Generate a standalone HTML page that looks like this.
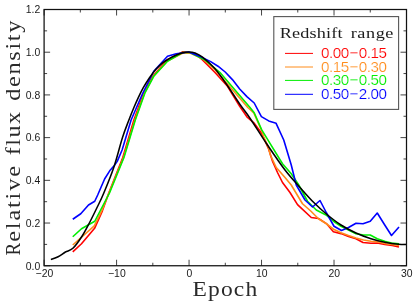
<!DOCTYPE html>
<html><head><meta charset="utf-8"><title>Relative flux density vs Epoch</title>
<style>
html,body{margin:0;padding:0;background:#fff;}
body{width:415px;height:301px;overflow:hidden;}
svg{display:block;will-change:transform;}
text{font-family:"Liberation Sans",sans-serif;}
.tl{font-size:10.4px;fill:#1a1a1a;}
.lg{font-size:15.2px;letter-spacing:-0.45px;stroke:#fff;stroke-width:0.2px;}
.lt{font-family:"Liberation Serif",serif;font-size:15.3px;fill:#1c1c1c;letter-spacing:0.48px;}
.ax{font-family:"Liberation Serif",serif;font-size:21px;fill:#2a2a2a;letter-spacing:1.0px;}
.ay{font-family:"Liberation Serif",serif;font-size:21.3px;fill:#2a2a2a;letter-spacing:1.3px;word-spacing:1.5px;}
</style></head>
<body>
<svg width="415" height="301" viewBox="0 0 415 301">
<rect width="415" height="301" fill="#fff"/>
<path d="M44.10 265.75v-6.00M44.10 9.50v6.00M80.34 265.75v-3.00M80.34 9.50v3.00M116.58 265.75v-6.00M116.58 9.50v6.00M152.82 265.75v-3.00M152.82 9.50v3.00M189.06 265.75v-6.00M189.06 9.50v6.00M225.30 265.75v-3.00M225.30 9.50v3.00M261.54 265.75v-6.00M261.54 9.50v6.00M297.78 265.75v-3.00M297.78 9.50v3.00M334.02 265.75v-6.00M334.02 9.50v6.00M370.26 265.75v-3.00M370.26 9.50v3.00M406.50 265.75v-6.00M406.50 9.50v6.00M44.10 265.75h6.00M406.50 265.75h-6.00M44.10 244.40h3.00M406.50 244.40h-3.00M44.10 223.04h6.00M406.50 223.04h-6.00M44.10 201.69h3.00M406.50 201.69h-3.00M44.10 180.33h6.00M406.50 180.33h-6.00M44.10 158.98h3.00M406.50 158.98h-3.00M44.10 137.62h6.00M406.50 137.62h-6.00M44.10 116.27h3.00M406.50 116.27h-3.00M44.10 94.92h6.00M406.50 94.92h-6.00M44.10 73.56h3.00M406.50 73.56h-3.00M44.10 52.21h6.00M406.50 52.21h-6.00M44.10 30.85h3.00M406.50 30.85h-3.00M44.10 9.50h6.00M406.50 9.50h-6.00" stroke="#222" stroke-width="0.85" fill="none"/>
<polyline points="72.75,251.80 81.50,243.75 94.60,228.30 102.40,210.80 109.00,192.50 122.80,157.50 133.90,120.00 143.90,92.50 153.00,76.00 167.00,60.00 182.50,51.90 190.00,52.80 195.00,53.75 202.50,60.00 215.00,72.50 227.50,86.25 239.70,106.30 246.90,116.80 254.20,123.20 261.40,133.00 268.40,148.30 272.50,161.25 277.50,172.50 282.50,182.50 290.00,192.50 297.50,204.60 311.25,217.50 318.50,218.50 326.40,223.60 333.40,231.70 341.00,233.60 348.50,236.40 356.00,238.75 363.00,242.50 371.00,243.25 377.25,243.00 384.75,244.50 392.25,245.50 399.00,247.00" fill="none" stroke="#ff0000" stroke-width="1.6" stroke-linejoin="round" stroke-linecap="butt"/>
<polyline points="72.75,245.00 94.30,225.90 101.80,210.60 109.00,193.00 123.60,157.50 134.90,120.00 144.70,92.50 153.50,76.20 167.30,61.00 182.50,53.30 190.00,53.00 203.00,59.00 215.20,70.00 232.70,90.00 247.80,107.50 253.80,112.90 261.60,130.30 263.60,136.60 268.40,147.40 270.40,155.00 276.25,167.50 285.00,177.50 291.25,185.00 302.50,203.75 311.00,211.25 318.50,218.75 326.00,223.50 333.50,229.20 341.00,232.80 348.50,235.50 356.00,238.00 363.50,240.00 371.00,241.25 378.50,242.00 386.00,243.75 392.25,244.50 399.00,245.50" fill="none" stroke="#ff8c1a" stroke-width="1.6" stroke-linejoin="round" stroke-linecap="butt"/>
<polyline points="72.75,236.75 81.50,228.75 94.75,221.25 109.50,193.00 123.95,157.50 135.30,120.00 145.10,92.50 153.75,76.25 167.50,61.25 182.50,52.50 190.00,52.50 205.00,60.00 220.00,72.50 235.00,90.00 250.00,107.60 254.20,112.70 261.60,129.60 270.00,143.30 282.50,163.75 291.25,173.75 298.75,185.00 307.50,201.25 316.25,210.00 326.00,215.00 333.50,221.25 341.00,226.25 348.50,230.00 356.00,233.75 363.50,235.00 370.25,235.00 377.25,238.75 384.75,241.25 391.50,243.00 399.00,243.75" fill="none" stroke="#00ee00" stroke-width="1.6" stroke-linejoin="round" stroke-linecap="butt"/>
<polyline points="72.75,219.25 80.75,213.75 88.50,205.00 94.75,201.25 97.70,195.00 100.80,187.75 104.60,179.00 109.70,170.80 114.10,165.80 117.25,161.40 122.10,150.00 131.10,120.00 142.50,93.75 153.75,71.25 167.50,56.25 176.25,53.75 188.75,52.00 200.00,56.40 210.70,61.60 218.00,66.20 225.20,72.00 232.40,79.60 239.70,89.00 246.90,96.60 254.20,103.00 261.40,116.60 268.70,120.90 276.10,123.30 283.75,140.00 291.25,165.00 296.25,185.00 305.00,200.00 312.50,207.00 320.00,200.50 326.25,212.50 334.00,226.25 341.50,230.50 348.50,227.50 356.00,223.25 363.00,223.75 370.25,221.25 377.25,213.00 384.75,225.00 391.50,235.50 399.00,227.00" fill="none" stroke="#0000ff" stroke-width="1.6" stroke-linejoin="round" stroke-linecap="butt"/>
<path d="M50.90 259.60C52.10 259.13 55.68 258.07 58.10 256.80C60.52 255.53 62.93 253.42 65.40 252.00C67.87 250.58 70.13 250.93 72.90 248.30C75.67 245.68 79.22 240.55 82.00 236.25C84.78 231.95 87.09 227.29 89.60 222.50C92.11 217.71 94.72 212.33 97.05 207.50C99.38 202.67 100.82 200.17 103.60 193.50C106.38 186.83 110.60 176.83 113.75 167.50C116.90 158.17 119.97 145.42 122.50 137.50C125.03 129.58 127.02 124.96 128.90 120.00C130.78 115.04 132.23 111.48 133.80 107.75C135.37 104.02 136.72 100.94 138.30 97.60C139.88 94.26 141.43 91.02 143.30 87.70C145.17 84.38 147.35 80.82 149.50 77.70C151.65 74.58 153.95 71.52 156.20 69.00C158.45 66.48 160.82 64.33 163.00 62.60C165.18 60.87 167.13 59.83 169.30 58.60C171.47 57.37 173.88 56.15 176.00 55.20C178.12 54.25 179.88 53.43 182.00 52.90C184.12 52.37 186.58 51.98 188.75 52.00C190.92 52.02 192.71 52.13 195.00 53.00C197.29 53.87 199.17 54.57 202.50 57.20C205.83 59.83 210.83 64.05 215.00 68.80C219.17 73.55 223.33 79.75 227.50 85.70C231.67 91.65 236.25 99.08 240.00 104.50C243.75 109.92 245.42 111.45 250.00 118.20C254.58 124.95 261.67 136.37 267.50 145.00C273.33 153.63 279.58 162.92 285.00 170.00C290.42 177.08 295.42 182.29 300.00 187.50C304.58 192.71 308.00 196.75 312.50 201.25C317.00 205.75 322.25 210.54 327.00 214.50C331.75 218.46 336.17 221.92 341.00 225.00C345.83 228.08 351.00 230.71 356.00 233.00C361.00 235.29 366.00 237.17 371.00 238.75C376.00 240.33 381.42 241.58 386.00 242.50C390.58 243.42 395.17 243.92 398.50 244.25C401.83 244.58 404.75 244.46 406.00 244.50" fill="none" stroke="#000000" stroke-width="1.55" stroke-linejoin="round"/>
<rect x="44.10" y="9.50" width="362.40" height="256.25" fill="none" stroke="#111" stroke-width="1.25"/>
<rect x="273.80" y="16.60" width="124.80" height="92.80" fill="#fff" stroke="#555" stroke-width="1.1"/>
<path d="M285 53.40H313" stroke="#ff0000" stroke-width="1"/>
<text x="321" y="58.30" class="lg" fill="#ff0000">0.00<tspan dx="0.8">−</tspan><tspan dx="0.8">0.15</tspan></text>
<path d="M285 67.00H313" stroke="#ff8c1a" stroke-width="1"/>
<text x="321" y="71.90" class="lg" fill="#ff8c1a">0.15<tspan dx="0.8">−</tspan><tspan dx="0.8">0.30</tspan></text>
<path d="M285 80.40H313" stroke="#00ee00" stroke-width="1"/>
<text x="321" y="85.30" class="lg" fill="#00ee00">0.30<tspan dx="0.8">−</tspan><tspan dx="0.8">0.50</tspan></text>
<path d="M285 94.30H313" stroke="#0000ff" stroke-width="1"/>
<text x="321" y="99.20" class="lg" fill="#0000ff">0.50<tspan dx="0.8">−</tspan><tspan dx="0.8">2.00</tspan></text>
<text transform="translate(279.7 38.0) scale(1.19 1)" class="lt" style="letter-spacing:0.16px">Redshift</text>
<text transform="translate(350.7 38.0) scale(1.19 1)" class="lt">range</text>
<text x="44.40" y="277.1" class="tl" text-anchor="middle">−20</text>
<text x="116.88" y="277.1" class="tl" text-anchor="middle">−10</text>
<text x="189.36" y="277.1" class="tl" text-anchor="middle">0</text>
<text x="261.84" y="277.1" class="tl" text-anchor="middle">10</text>
<text x="334.32" y="277.1" class="tl" text-anchor="middle">20</text>
<text x="406.80" y="277.1" class="tl" text-anchor="middle">30</text>
<text x="40.3" y="269.50" class="tl" text-anchor="end">0.0</text>
<text x="40.3" y="226.79" class="tl" text-anchor="end">0.2</text>
<text x="40.3" y="184.08" class="tl" text-anchor="end">0.4</text>
<text x="40.3" y="141.38" class="tl" text-anchor="end">0.6</text>
<text x="40.3" y="98.67" class="tl" text-anchor="end">0.8</text>
<text x="40.3" y="55.96" class="tl" text-anchor="end">1.0</text>
<text x="40.3" y="13.25" class="tl" text-anchor="end">1.2</text>
<text transform="translate(192.6 295.8) scale(1.12 1)" class="ax">Epoch</text>
<text transform="translate(20.2 255.60) rotate(-90) scale(0.89 1)" class="ay" style="letter-spacing:0.00px">R</text>
<text transform="translate(20.2 241.80) rotate(-90) scale(1.14 1)" class="ay" style="letter-spacing:1.62px">elative</text>
<text transform="translate(20.2 155.30) rotate(-90) scale(1.14 1)" class="ay" style="letter-spacing:1.30px">flux</text>
<text transform="translate(20.2 100.70) rotate(-90) scale(1.14 1)" class="ay" style="letter-spacing:1.45px">density</text>
</svg>
</body></html>
